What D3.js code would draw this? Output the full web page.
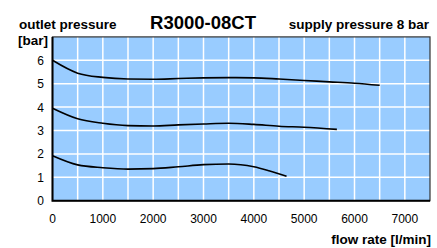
<!DOCTYPE html>
<html>
<head>
<script src="https://d3js.org/d3.v7.min.js" charset="utf-8"></script>
<style>
    body { margin: 0; background: #fff; }
    text { font-family: "Liberation Sans", Arial, sans-serif; fill: #000; }
</style>
</head>
<body>
<script>
    // flow rate [l/min] sample points and outlet pressure [bar] for each curve
    var flow6 = [0, 500, 1000, 1500, 2000, 2500, 3000, 3500, 4000, 4500, 5000, 5500, 6000, 6500];
    var pres6 = [6.0, 5.45, 5.27, 5.2, 5.19, 5.22, 5.25, 5.26, 5.25, 5.2, 5.14, 5.08, 5.02, 4.93];
    var flow4 = [0, 500, 1000, 1500, 2000, 2500, 3000, 3500, 4000, 4500, 5000, 5650];
    var pres4 = [3.95, 3.5, 3.31, 3.21, 3.19, 3.24, 3.28, 3.31, 3.26, 3.18, 3.14, 3.05];
    var flow2 = [0, 500, 1000, 1500, 2000, 2500, 3000, 3500, 4000, 4300, 4650];
    var pres2 = [1.92, 1.53, 1.41, 1.35, 1.37, 1.45, 1.54, 1.57, 1.45, 1.28, 1.04];

    var xTicks = [0, 1000, 2000, 3000, 4000, 5000, 6000, 7000];
    var yTicks = [0, 1, 2, 3, 4, 5, 6];
    var xGrid = d3.range(500, 7500, 500);
    var yGrid = [1, 2, 3, 4, 5, 6];

    var w = 437, h = 248;
    var svg = d3.select("body").append("svg").attr("width", w).attr("height", h);

    var x = d3.scaleLinear().domain([0, 7500]).range([52.5, 430]);
    var y = d3.scaleLinear().domain([0, 7]).range([200.7, 36.9]);

    // plot background
    svg.append("rect")
        .attr("x", x(0)).attr("y", y(7))
        .attr("width", x(7500) - x(0)).attr("height", y(0) - y(7))
        .attr("fill", "#99ccff");

    // grid
    svg.selectAll("line.vg").data(xGrid).enter().append("line")
        .attr("x1", function(d) { return x(d); }).attr("x2", function(d) { return x(d); })
        .attr("y1", y(0)).attr("y2", y(7))
        .attr("stroke", "#fff").attr("stroke-width", 1.5);
    svg.selectAll("line.hg").data(yGrid).enter().append("line")
        .attr("x1", x(0)).attr("x2", x(7500))
        .attr("y1", function(d) { return y(d); }).attr("y2", function(d) { return y(d); })
        .attr("stroke", "#fff").attr("stroke-width", 1.5);

    // border
    svg.append("rect")
        .attr("x", x(0)).attr("y", y(7))
        .attr("width", x(7500) - x(0)).attr("height", y(0) - y(7))
        .attr("fill", "none").attr("stroke", "#333").attr("stroke-width", 1.2);
    svg.append("path")
        .attr("d", "M" + x(0) + "," + y(7) + "V" + y(0) + "H" + x(7500))
        .attr("fill", "none").attr("stroke", "#000").attr("stroke-width", 2);

    // curves
    var line = d3.line()
        .x(function(d) { return x(d[0]); })
        .y(function(d) { return y(d[1]); })
        .curve(d3.curveMonotoneX);
    [[flow6, pres6], [flow4, pres4], [flow2, pres2]].forEach(function(s) {
        svg.append("path")
            .datum(d3.zip(s[0], s[1]))
            .attr("d", line)
            .attr("fill", "none").attr("stroke", "#000").attr("stroke-width", 1.6);
    });

    // tick labels
    svg.selectAll("text.xt").data(xTicks).enter().append("text")
        .attr("x", function(d) { return x(d); }).attr("y", 223)
        .attr("text-anchor", "middle").style("font-size", "12px")
        .text(function(d) { return d; });
    svg.selectAll("text.yt").data(yTicks).enter().append("text")
        .attr("x", 44).attr("y", function(d) { return y(d) + 4.5; })
        .attr("text-anchor", "end").style("font-size", "12px")
        .text(function(d) { return d; });

    // titles
    svg.append("text").attr("x", 19).attr("y", 29)
        .style("font-size", "13.5px").style("font-weight", "bold").text("outlet pressure");
    svg.append("text").attr("x", 18).attr("y", 45)
        .style("font-size", "13.5px").style("font-weight", "bold").text("[bar]");
    svg.append("text").attr("x", 203).attr("y", 29).attr("text-anchor", "middle")
        .style("font-size", "18.5px").style("font-weight", "bold").text("R3000-08CT");
    svg.append("text").attr("x", 429).attr("y", 29).attr("text-anchor", "end")
        .style("font-size", "13.5px").style("font-weight", "bold").text("supply pressure 8 bar");
    svg.append("text").attr("x", 431).attr("y", 244).attr("text-anchor", "end")
        .style("font-size", "13.5px").style("font-weight", "bold").text("flow rate [l/min]");
</script>
</body>
</html>
